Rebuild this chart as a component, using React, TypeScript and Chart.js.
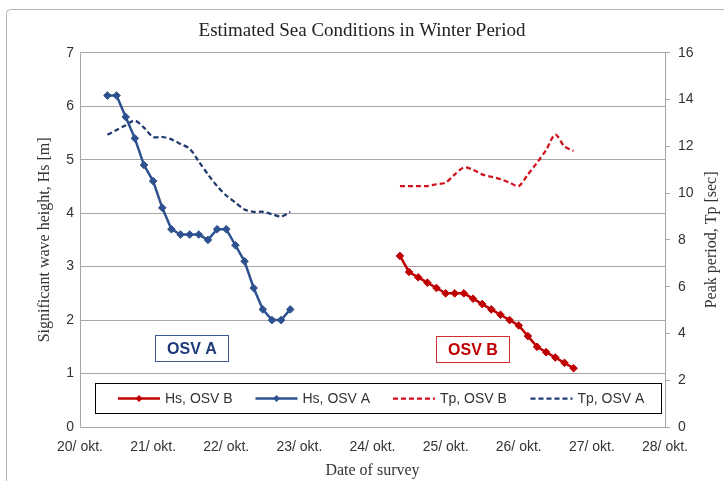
import React, { useEffect, useRef } from "react";
import { Chart, registerables } from "chart.js";

Chart.register(...registerables);

// ---- data ----
const DAY_TICKS = [20, 21, 22, 23, 24, 25, 26, 27, 28];
const TICK_LABELS = ["20/ okt.", "21/ okt.", "22/ okt.", "23/ okt.", "24/ okt.", "25/ okt.", "26/ okt.", "27/ okt.", "28/ okt."];

// survey times (day of October, 3-hourly) for OSV A
const TIMES_A = [20.375, 20.5, 20.625, 20.75, 20.875, 21.0, 21.125, 21.25, 21.375, 21.5, 21.625, 21.75, 21.875, 22.0, 22.125, 22.25, 22.375, 22.5, 22.625, 22.75, 22.875];
const HS_A = [6.2, 6.2, 5.8, 5.4, 4.9, 4.6, 4.1, 3.7, 3.6, 3.6, 3.6, 3.5, 3.7, 3.7, 3.4, 3.1, 2.6, 2.2, 2.0, 2.0, 2.2];
const TP_A = [12.5, 12.7, 12.9, 13.1, 12.8, 12.4, 12.4, 12.3, 12.1, 11.9, 11.35, 10.8, 10.3, 9.9, 9.6, 9.3, 9.2, 9.2, 9.1, 9.0, 9.2];

// survey times for OSV B
const TIMES_B = [24.375, 24.5, 24.625, 24.75, 24.875, 25.0, 25.125, 25.25, 25.375, 25.5, 25.625, 25.75, 25.875, 26.0, 26.125, 26.25, 26.375, 26.5, 26.625, 26.75];
const HS_B = [3.2, 2.9, 2.8, 2.7, 2.6, 2.5, 2.5, 2.5, 2.4, 2.3, 2.2, 2.1, 2.0, 1.9, 1.7, 1.5, 1.4, 1.3, 1.2, 1.1];
const TP_B = [10.3, 10.3, 10.3, 10.3, 10.38, 10.45, 10.8, 11.1, 11.0, 10.8, 10.7, 10.6, 10.45, 10.3, 10.8, 11.3, 11.85, 12.5, 12.0, 11.8];

const LEGEND_LABELS = ["Hs, OSV B", "Hs, OSV A", "Tp, OSV B", "Tp, OSV A"];

const BLUE = "#2E528F";
const NAVY = "#1F3A6E";
const RED = "#C00000";
const RED2 = "#D0101A";
const GRID = "#A6A6A6";
const TEXT = "#333333";
const SERIF = "'Liberation Serif', 'DejaVu Serif', serif";
const SANS = "'Liberation Sans', Arial, sans-serif";

const pts = (xs: number[], ys: number[]) => xs.map((x, i) => ({ x, y: ys[i] }));

const overlayPlugin = {
  id: "overlay",
  beforeDraw(chart: any) {
    const ctx = chart.ctx;
    ctx.save();
    ctx.strokeStyle = "#B5B5B5";
    ctx.lineWidth = 1;
    ctx.beginPath();
    ctx.moveTo(6.5, 481);
    ctx.lineTo(6.5, 14);
    ctx.arcTo(6.5, 9.5, 11, 9.5, 4);
    ctx.lineTo(724, 9.5);
    ctx.stroke();
    ctx.restore();
  },
  afterDraw(chart: any) {
    const ctx = chart.ctx;
    const area = chart.chartArea;
    const x = chart.scales.x;
    const y = chart.scales.y;
    ctx.save();

    // OSV boxes
    const box = (cx: number, cy: number, text: string, color: string, border: string) => {
      const w = 73, h = 26;
      const px = Math.round(x.getPixelForValue(cx) - w / 2) + 0.5;
      const py = Math.round(y.getPixelForValue(cy) - h / 2) + 0.5;
      ctx.fillStyle = "#fff";
      ctx.fillRect(px, py, w, h);
      ctx.strokeStyle = border;
      ctx.lineWidth = 1;
      ctx.strokeRect(px, py, w, h);
      ctx.fillStyle = color;
      ctx.font = `bold 16px ${SANS}`;
      ctx.textAlign = "center";
      ctx.textBaseline = "middle";
      ctx.fillText(text, px + w / 2, py + h / 2 + 1);
    };
    box(21.53, 1.48, "OSV A", "#1F3A7A", "#3A5A95");
    box(25.37, 1.46, "OSV B", "#C00000", "#D03030");

    // legend box
    const lx = area.left + 15.5, ly = area.bottom - 43.5, lw = 566, lh = 30;
    ctx.fillStyle = "#fff";
    ctx.fillRect(lx, ly, lw, lh);
    ctx.strokeStyle = "#000";
    ctx.lineWidth = 1;
    ctx.strokeRect(lx, ly, lw, lh);
    const cy = ly + lh / 2;
    const ds = chart.data.datasets;
    ds.forEach((d: any, i: number) => {
      const sx = area.left + 38 + i * 137.5;
      ctx.strokeStyle = d.borderColor;
      ctx.lineWidth = d.borderWidth;
      ctx.setLineDash(d.borderDash || []);
      ctx.beginPath();
      ctx.moveTo(sx, cy);
      ctx.lineTo(sx + 42, cy);
      ctx.stroke();
      ctx.setLineDash([]);
      if (d.pointRadius > 0) {
        ctx.fillStyle = d.borderColor;
        const mx = sx + 21, r = 3.5;
        ctx.beginPath();
        ctx.moveTo(mx, cy - r);
        ctx.lineTo(mx + r, cy);
        ctx.lineTo(mx, cy + r);
        ctx.lineTo(mx - r, cy);
        ctx.closePath();
        ctx.fill();
      }
      ctx.fillStyle = TEXT;
      ctx.font = `14px ${SANS}`;
      ctx.textAlign = "left";
      ctx.textBaseline = "middle";
      ctx.fillText(d.label, sx + 47, cy + 1);
    });

    // right axis title (reads bottom-to-top)
    ctx.translate(712, (area.top + area.bottom) / 2);
    ctx.rotate(-Math.PI / 2);
    ctx.fillStyle = TEXT;
    ctx.font = `16px ${SERIF}`;
    ctx.textAlign = "center";
    ctx.textBaseline = "middle";
    ctx.fillText("Peak period, Tp [sec]", 0, 0);
    ctx.restore();
  },
};

export default function App() {
  const ref = useRef<HTMLCanvasElement | null>(null);

  useEffect(() => {
    if (!ref.current) return;
    const chart = new Chart(ref.current, {
      type: "line",
      data: {
        datasets: [
          {
            label: LEGEND_LABELS[0],
            data: pts(TIMES_B, HS_B),
            yAxisID: "y",
            borderColor: RED,
            backgroundColor: RED,
            borderWidth: 2.5,
            pointStyle: "rectRot",
            pointRadius: 3.8,
            pointBorderWidth: 1,
            tension: 0,
          },
          {
            label: LEGEND_LABELS[1],
            data: pts(TIMES_A, HS_A),
            yAxisID: "y",
            borderColor: BLUE,
            backgroundColor: BLUE,
            borderWidth: 2.5,
            pointStyle: "rectRot",
            pointRadius: 3.8,
            pointBorderWidth: 1,
            tension: 0,
          },
          {
            label: LEGEND_LABELS[2],
            data: pts(TIMES_B, TP_B),
            yAxisID: "y2",
            borderColor: RED2,
            backgroundColor: RED2,
            borderWidth: 2.25,
            borderDash: [5, 3],
            pointRadius: 0,
            tension: 0.3,
          },
          {
            label: LEGEND_LABELS[3],
            data: pts(TIMES_A, TP_A),
            yAxisID: "y2",
            borderColor: NAVY,
            backgroundColor: NAVY,
            borderWidth: 2.25,
            borderDash: [5, 3],
            pointRadius: 0,
            tension: 0.3,
          },
        ],
      },
      options: {
        animation: false,
        responsive: false,
        layout: { padding: 0 },
        plugins: {
          legend: { display: false },
          tooltip: { enabled: false },
          title: {
            display: true,
            text: "Estimated Sea Conditions in Winter Period",
            color: "#222222",
            font: { family: SERIF, size: 19, weight: "normal" },
            padding: { top: 20, bottom: 10 },
          },
        },
        scales: {
          x: {
            type: "linear",
            min: 20,
            max: 28,
            afterBuildTicks: (s: any) => {
              s.ticks = DAY_TICKS.map((v) => ({ value: v }));
            },
            afterFit: (s: any) => {
              s.height = 54;
            },
            ticks: {
              color: TEXT,
              font: { family: SANS, size: 14 },
              padding: 12,
              maxRotation: 0,
              autoSkip: false,
              callback: (v: any) => TICK_LABELS[DAY_TICKS.indexOf(Number(v))] ?? "",
            },
            grid: { drawOnChartArea: false, drawTicks: false, color: GRID },
            border: { display: true, color: GRID, width: 1 },
            title: {
              display: true,
              text: "Date of survey",
              color: TEXT,
              font: { family: SERIF, size: 16 },
              padding: { top: 0, bottom: 1 },
            },
          },
          y: {
            type: "linear",
            position: "left",
            min: 0,
            max: 7,
            ticks: {
              stepSize: 1,
              color: TEXT,
              font: { family: SANS, size: 14 },
              padding: 6,
            },
            afterFit: (s: any) => {
              s.width = 80;
            },
            grid: { color: GRID, drawTicks: false, lineWidth: 1 },
            border: { display: true, color: GRID, width: 1 },
            title: {
              display: true,
              text: "Significant wave height, Hs [m]",
              color: TEXT,
              font: { family: SERIF, size: 16 },
              padding: { top: 35, bottom: 0 },
            },
          },
          y2: {
            type: "linear",
            position: "right",
            min: 0,
            max: 16,
            ticks: {
              stepSize: 2,
              color: TEXT,
              font: { family: SANS, size: 14 },
              padding: 8,
            },
            afterFit: (s: any) => {
              s.width = 59;
            },
            grid: { drawOnChartArea: false, drawTicks: true, tickLength: 5, color: GRID },
            border: { display: true, color: GRID, width: 1 },
          },
        },
      },
      plugins: [overlayPlugin],
    } as any);
    return () => chart.destroy();
  }, []);

  return (
    <div style={{ position: "absolute", left: 0, top: 0, width: 724, height: 481, background: "#fff" }}>
      <canvas ref={ref} width={724} height={481} style={{ display: "block" }} />
    </div>
  );
}
